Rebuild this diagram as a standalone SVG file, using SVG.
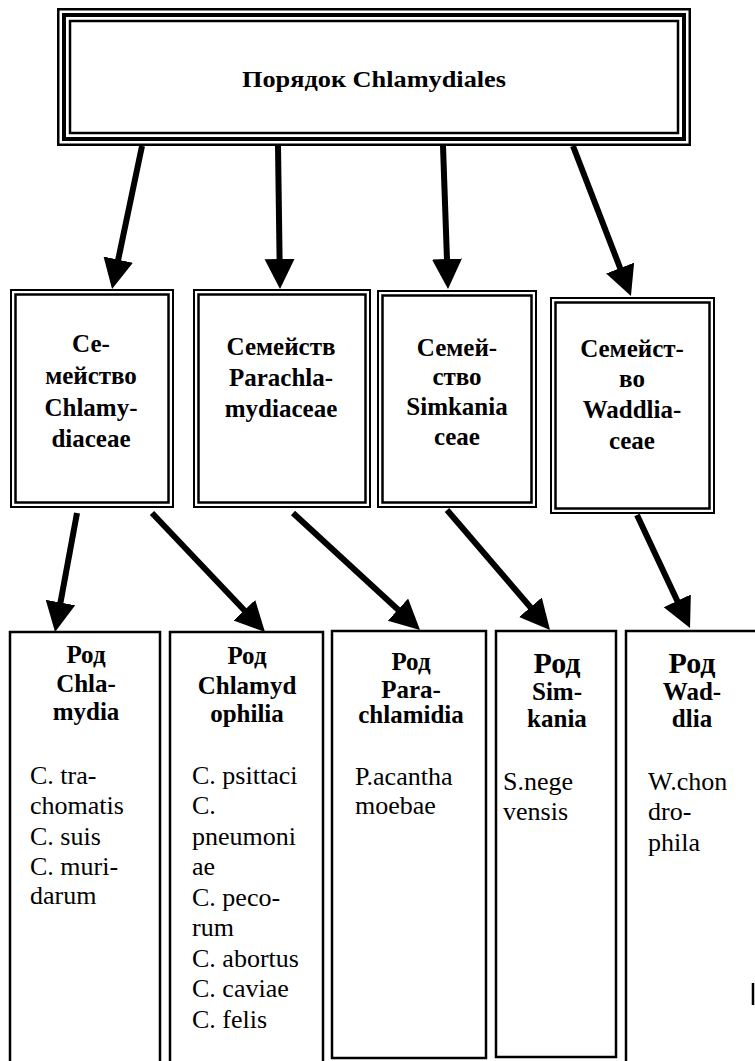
<svg xmlns="http://www.w3.org/2000/svg" width="755" height="1061" viewBox="0 0 755 1061">
<defs>
<marker id="ah" markerWidth="32" markerHeight="32" refX="1" refY="15" orient="auto" markerUnits="userSpaceOnUse">
<path d="M0,0 L30,15 L0,30 z" fill="#000"/>
</marker>
<style>
.b{fill:none;stroke:#000}
.o{stroke-width:2}
.i{stroke-width:2.5}
.s{fill:none;stroke:#000;stroke-width:2.5}
text{font-family:"Liberation Serif","Times New Roman",serif;fill:#000}
.t{font-size:24px;font-weight:bold;text-anchor:middle}
.f{font-size:25px;font-weight:bold;text-anchor:middle}
.g{font-size:25px;font-weight:bold;text-anchor:middle}
.gb{font-size:30px;font-weight:bold;text-anchor:middle}
.sp{font-size:26px}
.arr{stroke:#000;stroke-width:6;fill:none;marker-end:url(#ah)}
</style>
</defs>
<rect width="755" height="1061" fill="#fff"/>

<g id="order">
<rect class="b" x="58.25" y="9.25" width="631.5" height="135.5" stroke-width="2.5"/>
<rect class="b" x="64" y="15" width="620" height="124" stroke-width="4"/>
<rect class="b" x="70" y="21" width="608" height="112" stroke-width="2.5"/>
<text class="t" x="374" y="87" textLength="264" lengthAdjust="spacingAndGlyphs">Порядок Chlamydiales</text>
</g>

<g id="fam-chlamydiaceae">
<rect class="b o" x="11" y="290" width="162" height="217"/>
<rect class="b i" x="15.5" y="294.5" width="153" height="208"/>
<text class="f" x="91" y="352">Се-</text>
<text class="f" x="91" y="384">мейство</text>
<text class="f" x="91" y="416">Chlamy-</text>
<text class="f" x="91" y="447">diaceae</text>
</g>

<g id="fam-parachlamydiaceae">
<rect class="b o" x="194" y="290" width="176" height="217"/>
<rect class="b i" x="198.5" y="294.5" width="167" height="208"/>
<text class="f" x="281" y="355">Семейств</text>
<text class="f" x="281" y="386">Parachla-</text>
<text class="f" x="281" y="417">mydiaceae</text>
</g>

<g id="fam-simkaniaceae">
<rect class="b o" x="378" y="291" width="158" height="216"/>
<rect class="b i" x="382.5" y="295.5" width="149" height="207"/>
<text class="f" x="457" y="356">Семей-</text>
<text class="f" x="457" y="385">ство</text>
<text class="f" x="457" y="415">Simkania</text>
<text class="f" x="457" y="445">ceae</text>
</g>

<g id="fam-waddliaceae">
<rect class="b o" x="551" y="298" width="163" height="215"/>
<rect class="b i" x="555.5" y="302.5" width="154" height="206"/>
<text class="f" x="632" y="357">Семейст-</text>
<text class="f" x="632" y="387">во</text>
<text class="f" x="632" y="418">Waddlia-</text>
<text class="f" x="632" y="449">ceae</text>
</g>

<g id="gen-chlamydia">
<rect class="s" x="10" y="632" width="150" height="440"/>
<text class="g" x="86" y="663">Род</text>
<text class="g" x="86" y="692">Chla-</text>
<text class="g" x="86" y="720">mydia</text>
<text class="sp" x="30" y="784">C. tra-</text>
<text class="sp" x="30" y="814">chomatis</text>
<text class="sp" x="30" y="845">C. suis</text>
<text class="sp" x="30" y="875">C. muri-</text>
<text class="sp" x="30" y="904">darum</text>
</g>

<g id="gen-chlamydophila">
<rect class="s" x="170" y="632" width="153" height="440"/>
<text class="g" x="247" y="664">Род</text>
<text class="g" x="247" y="694">Chlamyd</text>
<text class="g" x="247" y="722">ophilia</text>
<text class="sp" x="192" y="784">C. psittaci</text>
<text class="sp" x="192" y="814">C.</text>
<text class="sp" x="192" y="845">pneumoni</text>
<text class="sp" x="192" y="875">ae</text>
<text class="sp" x="192" y="906">C. peco-</text>
<text class="sp" x="192" y="936">rum</text>
<text class="sp" x="192" y="967">C. abortus</text>
<text class="sp" x="192" y="997">C. caviae</text>
<text class="sp" x="192" y="1028">C. felis</text>
</g>

<g id="gen-parachlamidia">
<rect class="s" x="332" y="631" width="154" height="427"/>
<text class="g" x="411" y="670">Род</text>
<text class="g" x="411" y="698">Para-</text>
<text class="g" x="411" y="723">chlamidia</text>
<text class="sp" x="355" y="785">P.acantha</text>
<text class="sp" x="355" y="814">moebae</text>
</g>

<g id="gen-simkania">
<rect class="s" x="496" y="631" width="120" height="426"/>
<text class="gb" x="557" y="673">Род</text>
<text class="g" x="557" y="700">Sim-</text>
<text class="g" x="557" y="727">kania</text>
<text class="sp" x="503" y="790">S.nege</text>
<text class="sp" x="503" y="820">vensis</text>
</g>

<g id="gen-waddlia">
<path class="s" d="M626,1070 V631 H760"/>
<path class="s" d="M753,983 V1005"/>
<text class="gb" x="692" y="673">Род</text>
<text class="g" x="692" y="700">Wad-</text>
<text class="g" x="692" y="727">dlia</text>
<text class="sp" x="648" y="790">W.chon</text>
<text class="sp" x="648" y="820">dro-</text>
<text class="sp" x="648" y="851">phila</text>
</g>

<g id="connectors">
<line class="arr" x1="142" y1="146" x2="118" y2="260.6"/>
<line class="arr" x1="278" y1="146" x2="279.6" y2="260"/>
<line class="arr" x1="443" y1="146" x2="447" y2="260"/>
<line class="arr" x1="573" y1="146" x2="620.5" y2="269"/>
<line class="arr" x1="77" y1="513" x2="60.3" y2="603.5"/>
<line class="arr" x1="152" y1="513" x2="245" y2="611"/>
<line class="arr" x1="293" y1="513" x2="398.7" y2="610.3"/>
<line class="arr" x1="447" y1="510" x2="531.1" y2="608"/>
<line class="arr" x1="637" y1="515" x2="677.7" y2="601.7"/>
</g>
</svg>
